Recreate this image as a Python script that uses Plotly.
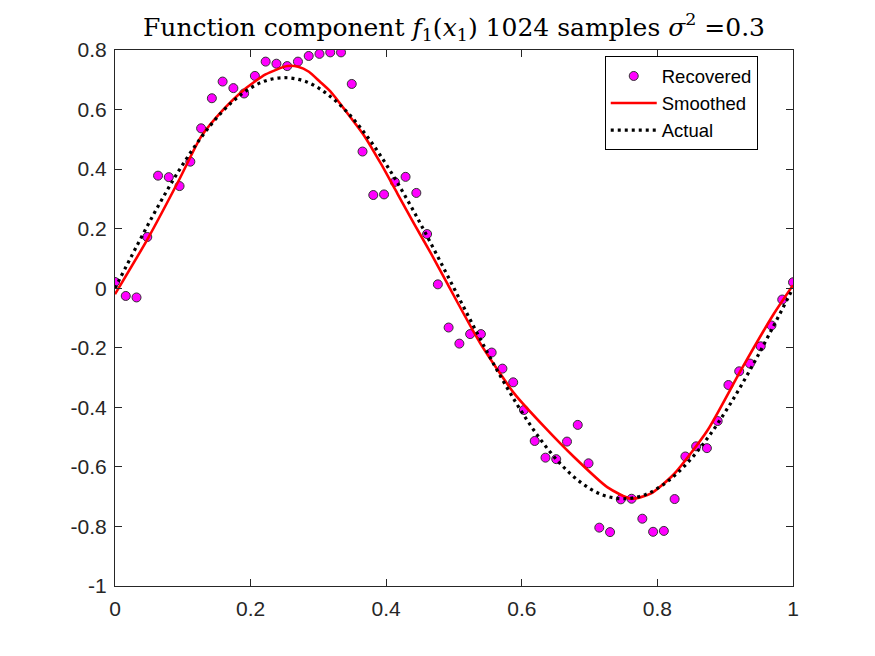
"""
Recreate the MATLAB-style 'Function component' plot:
recovered samples, smoothed estimate and the actual component.
"""

import numpy as np
import plotly.graph_objects as go

# recovered samples, evenly spaced on [0, 1]
recovered_y = [
    0.021, -0.026, -0.031, 0.172, 0.378, 0.373, 0.343, 0.425,
    0.537, 0.638, 0.694, 0.672, 0.654, 0.713, 0.761, 0.754,
    0.746, 0.761, 0.780, 0.787, 0.792, 0.792, 0.686, 0.459,
    0.313, 0.315, 0.357, 0.374, 0.320, 0.182, 0.013, -0.132,
    -0.186, -0.154, -0.154, -0.216, -0.270, -0.316, -0.409, -0.513,
    -0.569, -0.574, -0.515, -0.459, -0.588, -0.804, -0.819, -0.709,
    -0.707, -0.774, -0.818, -0.815, -0.708, -0.565, -0.531, -0.537,
    -0.446, -0.325, -0.279, -0.253, -0.195, -0.125, -0.038, 0.020,
]
recovered_x = np.linspace(0, 1, len(recovered_y))

# smoothed estimate
smoothed_x = [
    0.0, 0.048, 0.095, 0.127, 0.159, 0.19, 0.222, 0.254, 0.27, 0.286,
    0.302, 0.318, 0.343, 0.367, 0.392, 0.4165, 0.441, 0.466, 0.49, 0.539,
    0.589, 0.633, 0.677, 0.726, 0.761, 0.79, 0.825, 0.874, 0.923, 0.972, 1.0,
]
smoothed_y = [
    -0.02, 0.165, 0.366, 0.509, 0.598, 0.666, 0.718, 0.746, 0.744, 0.727,
    0.694, 0.660, 0.587, 0.514, 0.419, 0.318, 0.217, 0.117, 0.016, -0.186,
    -0.354, -0.465, -0.567, -0.668, -0.707, -0.690, -0.623, -0.477, -0.276,
    -0.085, 0.01,
]

# actual component
actual_y = [
    0.000, 0.138, 0.271, 0.393, 0.500, 0.588, 0.653, 0.694, 0.707,
    0.694, 0.653, 0.588, 0.500, 0.393, 0.271, 0.138, 0.000,
    -0.138, -0.271, -0.393, -0.500, -0.588, -0.653, -0.694, -0.707,
    -0.694, -0.653, -0.588, -0.500, -0.393, -0.271, -0.138, 0.000,
]
actual_x = np.linspace(0, 1, len(actual_y))

x_ticks = [0, 0.2, 0.4, 0.6, 0.8, 1]
x_labels = ["0", "0.2", "0.4", "0.6", "0.8", "1"]
y_ticks = [0.8, 0.6, 0.4, 0.2, 0, -0.2, -0.4, -0.6, -0.8, -1]
y_labels = ["0.8", "0.6", "0.4", "0.2", "0", "-0.2", "-0.4", "-0.6", "-0.8", "-1"]

AXIS_COLOR = "#262626"

fig = go.Figure()
fig.add_trace(
    go.Scatter(
        x=recovered_x,
        y=recovered_y,
        mode="markers",
        name="Recovered",
        marker=dict(size=9, color="#FF00FF", line=dict(color="#333333", width=1)),
    )
)
fig.add_trace(
    go.Scatter(
        x=smoothed_x,
        y=smoothed_y,
        mode="lines",
        name="Smoothed",
        line=dict(color="#FF0000", width=2.6, shape="spline", smoothing=0.6),
    )
)
fig.add_trace(
    go.Scatter(
        x=actual_x,
        y=actual_y,
        mode="lines",
        name="Actual",
        line=dict(color="#000000", width=3.2, dash="3px,4px", shape="spline"),
    )
)

axis_common = dict(
    showline=True,
    linecolor=AXIS_COLOR,
    linewidth=1,
    mirror="ticks",
    ticks="inside",
    ticklen=7,
    tickwidth=1,
    tickcolor=AXIS_COLOR,
    showgrid=False,
    zeroline=False,
    tickfont=dict(family="Liberation Sans, Arial", size=21, color=AXIS_COLOR),
)

fig.update_xaxes(
    range=[0, 1], tickvals=x_ticks, ticktext=x_labels, ticklabelstandoff=4, **axis_common
)
fig.update_yaxes(
    range=[-1, 0.8], tickvals=y_ticks, ticktext=y_labels, ticklabelstandoff=3, **axis_common
)

# the page body adds ~8px offset, so the margins are shifted up/left to compensate
fig.update_layout(
    width=875,
    height=656,
    paper_bgcolor="white",
    plot_bgcolor="white",
    margin=dict(l=107, r=90, t=42, b=78),
    title=dict(
        text="Function component <i>f</i><sub>1</sub>(<i>x</i><sub>1</sub>) 1024 samples "
        "<i>σ</i><sup>2</sup> =0.3",
        x=0.5,
        xref="paper",
        xanchor="center",
        y=0.971,
        yanchor="middle",
        font=dict(family="DejaVu Serif, Liberation Serif", size=25, color="#000000"),
    ),
    legend=dict(
        x=0.948,
        y=0.988,
        xanchor="right",
        yanchor="top",
        bgcolor="white",
        bordercolor="#000000",
        borderwidth=1,
        font=dict(family="Liberation Sans, Arial", size=18.5, color="#000000"),
        tracegroupgap=0,
        itemwidth=46,
    ),
    showlegend=True,
)

fig.write_html("out.html")
